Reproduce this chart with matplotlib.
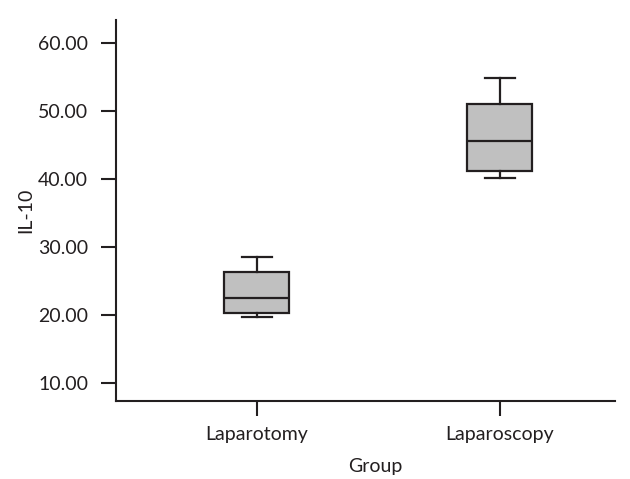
import matplotlib
matplotlib.use("Agg")
import matplotlib.pyplot as plt

categories = ["Laparotomy", "Laparoscopy"]
whislo = [19.7, 40.1]
q1 = [20.3, 41.2]
med = [22.5, 45.6]
q3 = [26.3, 51.1]
whishi = [28.5, 54.9]
yticks = [10, 20, 30, 40, 50, 60]

plt.rcParams['font.family'] = ['Lato', 'DejaVu Sans']
fig = plt.figure(figsize=(6.3, 4.79), dpi=100)
ax = fig.add_axes([0.184, 0.163, 0.792, 0.795])

stats = [dict(label=c, whislo=a, q1=b, med=m, q3=d, whishi=e, fliers=[])
         for c, a, b, m, d, e in zip(categories, whislo, q1, med, q3, whishi)]
ec = "#231f20"
ax.bxp(stats, positions=[1, 2], widths=0.267, patch_artist=True, showfliers=False,
       capwidths=0.123,
       boxprops=dict(facecolor="#c0c0c0", edgecolor=ec, linewidth=1.6),
       medianprops=dict(color=ec, linewidth=1.6),
       whiskerprops=dict(color=ec, linewidth=1.6),
       capprops=dict(color=ec, linewidth=1.6))

ax.set_xlim(0.42, 2.473)
ax.set_ylim(7.35, 63.4)
ax.set_yticks(yticks)
ax.set_yticklabels([f"{v:.2f}" for v in yticks])
ax.set_xticks([1, 2])
ax.set_xticklabels(categories)
for s in ["top", "right"]:
    ax.spines[s].set_visible(False)
for s in ["left", "bottom"]:
    ax.spines[s].set_linewidth(1.5)
    ax.spines[s].set_color(ec)
ax.tick_params(axis='both', direction='out', length=11, width=1.5, color=ec,
               labelsize=14, labelcolor="#231f20")
ax.tick_params(axis='y', pad=9)
ax.tick_params(axis='x', pad=7)
ax.set_ylabel("IL-10", fontsize=14, color="#231f20")
ax.yaxis.set_label_coords(-0.163, 0.5)
ax.set_xlabel("Group", fontsize=14, color="#231f20")
ax.xaxis.set_label_coords(0.52, -0.15)
fig.savefig("out.png", dpi=100)
